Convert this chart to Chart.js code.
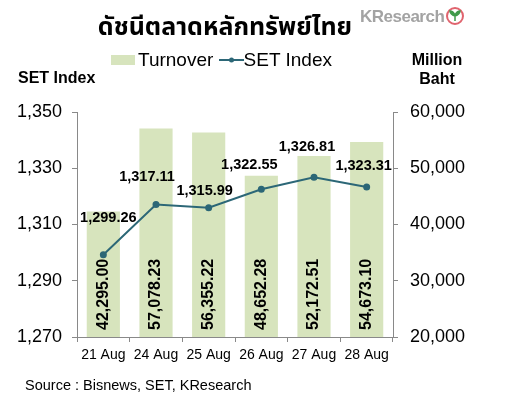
<!DOCTYPE html>
<html>
<head>
<meta charset="utf-8">
<script src="https://cdn.jsdelivr.net/npm/chart.js@4.4.1/dist/chart.umd.min.js"></script>
<style>
  body { margin: 0; background: #fff; }
  #wrap { position: relative; width: 518px; height: 417px; font-family: "Liberation Sans", Arial, sans-serif; color: #000; }
  #chart { position: absolute; left: 0; top: 0; }
  .txt { position: absolute; white-space: nowrap; }
  #title { left: 0; width: 450px; top: 10px; text-align: center; font-family: "Noto Sans Thai", "Tahoma", "DejaVu Sans", sans-serif; font-weight: bold; font-size: 25px; line-height: 34px; }
  #logo { left: 360px; top: 6px; font-size: 17px; font-weight: bold; color: #a3a3a3; letter-spacing: -0.5px; line-height: 22px; }
  #legend { left: 111px; top: 49px; font-size: 19px; line-height: 22px; }
  .swatch { display: inline-block; width: 24px; height: 10px; background: #d7e4bd; vertical-align: 1px; margin-right: 3px; }
  .axisTitle { font-weight: bold; font-size: 16px; line-height: 19px; }
  #source { left: 25px; top: 376px; font-size: 14.5px; line-height: 18px; }
</style>
</head>
<body>
<div id="wrap">
  <canvas id="chart" width="518" height="417"></canvas>
  <div class="txt" id="title">ดัชนีตลาดหลักทรัพย์ไทย</div>
  <div class="txt" id="logo">KResearch<svg width="20" height="20" viewBox="0 0 20 20" style="vertical-align:-4px;margin-left:1px"><circle cx="10" cy="10" r="8" fill="#fff" stroke="#e0646e" stroke-width="2"/><path d="M10 15 L10 9 M10 10 C7 9 5 7 5 5 C8 5 9 7 10 9 C11 7 12 5 15 5 C15 7 13 9 10 10" fill="#3f9a4a" stroke="#3f9a4a" stroke-width="1.5"/></svg></div>
  <div class="txt" id="legend"><span class="swatch"></span>Turnover <svg width="25" height="10" style="vertical-align:1px"><line x1="0" y1="5" x2="25" y2="5" stroke="#2c6777" stroke-width="2"/><circle cx="12.5" cy="5" r="2.5" fill="#2c6777"/></svg>SET Index</div>
  <div class="txt axisTitle" style="left:18px;top:68px;">SET Index</div>
  <div class="txt axisTitle" style="left:400px;top:50px;width:74px;text-align:center;">Million<br>Baht</div>
  <div class="txt" id="source">Source : Bisnews, SET, KResearch</div>
</div>
<script>
// chart data
const days = ['21 Aug', '24 Aug', '25 Aug', '26 Aug', '27 Aug', '28 Aug'];
const turnover = [42295.00, 57078.23, 56355.22, 48652.28, 52172.51, 54673.10];
const setIndex = [1299.26, 1317.11, 1315.99, 1322.55, 1326.81, 1323.31];
const leftTicks = [1270, 1290, 1310, 1330, 1350];
const rightTicks = [20000, 30000, 40000, 50000, 60000];

// hand placed label nudges, like the original
const lineLabelShift = [[5, -37], [-9, -28], [-4, -17], [-12, -24], [-7, -30], [-3, -21]];

const axisGray = '#898989';
const fmt = (v, d) => v.toLocaleString('en-US', { minimumFractionDigits: d, maximumFractionDigits: d });

const valueLabels = {
    id: 'valueLabels',
    afterDatasetsDraw(chart) {
        const ctx = chart.ctx;
        const baseY = chart.chartArea.bottom;
        ctx.save();
        ctx.fillStyle = '#000';
        // bar labels, vertical, sitting on the base
        const bars = chart.getDatasetMeta(0);
        ctx.font = 'bold 16px "Liberation Sans", Arial, sans-serif';
        ctx.textAlign = 'left';
        ctx.textBaseline = 'middle';
        bars.data.forEach((bar, i) => {
            ctx.save();
            ctx.translate(bar.x, baseY - 7);
            ctx.rotate(-Math.PI / 2);
            ctx.fillText(fmt(turnover[i], 2), 0, 0);
            ctx.restore();
        });
        // line labels
        const pts = chart.getDatasetMeta(1);
        ctx.font = 'bold 14.5px "Liberation Sans", Arial, sans-serif';
        ctx.textAlign = 'center';
        pts.data.forEach((p, i) => {
            const s = lineLabelShift[i];
            ctx.fillText(fmt(setIndex[i], 2), p.x + s[0], p.y + s[1]);
        });
        ctx.restore();
    }
};

new Chart(document.getElementById('chart'), {
    type: 'bar',
    data: {
        labels: days,
        datasets: [
            {
                type: 'bar',
                label: 'Turnover',
                data: turnover,
                yAxisID: 'yR',
                backgroundColor: '#d7e4bd',
                categoryPercentage: 1,
                barPercentage: 0.63,
                order: 1
            },
            {
                type: 'line',
                label: 'SET Index',
                data: setIndex,
                yAxisID: 'yL',
                borderColor: '#2c6777',
                backgroundColor: '#2c6777',
                borderWidth: 2,
                pointStyle: 'circle',
                pointRadius: 2.5,
                tension: 0,
                order: 0
            }
        ]
    },
    options: {
        responsive: false,
        animation: false,
        devicePixelRatio: 1,
        layout: { padding: { top: 112, left: 0, right: 0, bottom: 0 } },
        plugins: {
            legend: { display: false },
            tooltip: { enabled: false }
        },
        scales: {
            x: {
                afterFit: s => { s.height = 80; },
                grid: { offset: true, drawOnChartArea: false, tickLength: 5, color: axisGray },
                border: { color: axisGray, width: 1 },
                ticks: { color: '#000', padding: 5, maxRotation: 0, font: { family: '"Liberation Sans", Arial, sans-serif', size: 14 } }
            },
            yL: {
                position: 'left',
                min: leftTicks[0],
                max: leftTicks[leftTicks.length - 1],
                afterFit: s => { s.width = 77; },
                afterBuildTicks: s => { s.ticks = leftTicks.map(v => ({ value: v })); },
                grid: { drawOnChartArea: false, tickLength: 5, color: axisGray },
                border: { color: axisGray, width: 1 },
                ticks: { color: '#000', padding: 10, callback: v => fmt(v, 0), font: { family: '"Liberation Sans", Arial, sans-serif', size: 18 } }
            },
            yR: {
                position: 'right',
                min: rightTicks[0],
                max: rightTicks[rightTicks.length - 1],
                afterFit: s => { s.width = 125; },
                afterBuildTicks: s => { s.ticks = rightTicks.map(v => ({ value: v })); },
                grid: { drawOnChartArea: false, tickLength: 5, color: axisGray },
                border: { color: axisGray, width: 1 },
                ticks: { color: '#000', padding: 12, callback: v => fmt(v, 0), font: { family: '"Liberation Sans", Arial, sans-serif', size: 18 } }
            }
        }
    },
    plugins: [valueLabels]
});
</script>
</body>
</html>
